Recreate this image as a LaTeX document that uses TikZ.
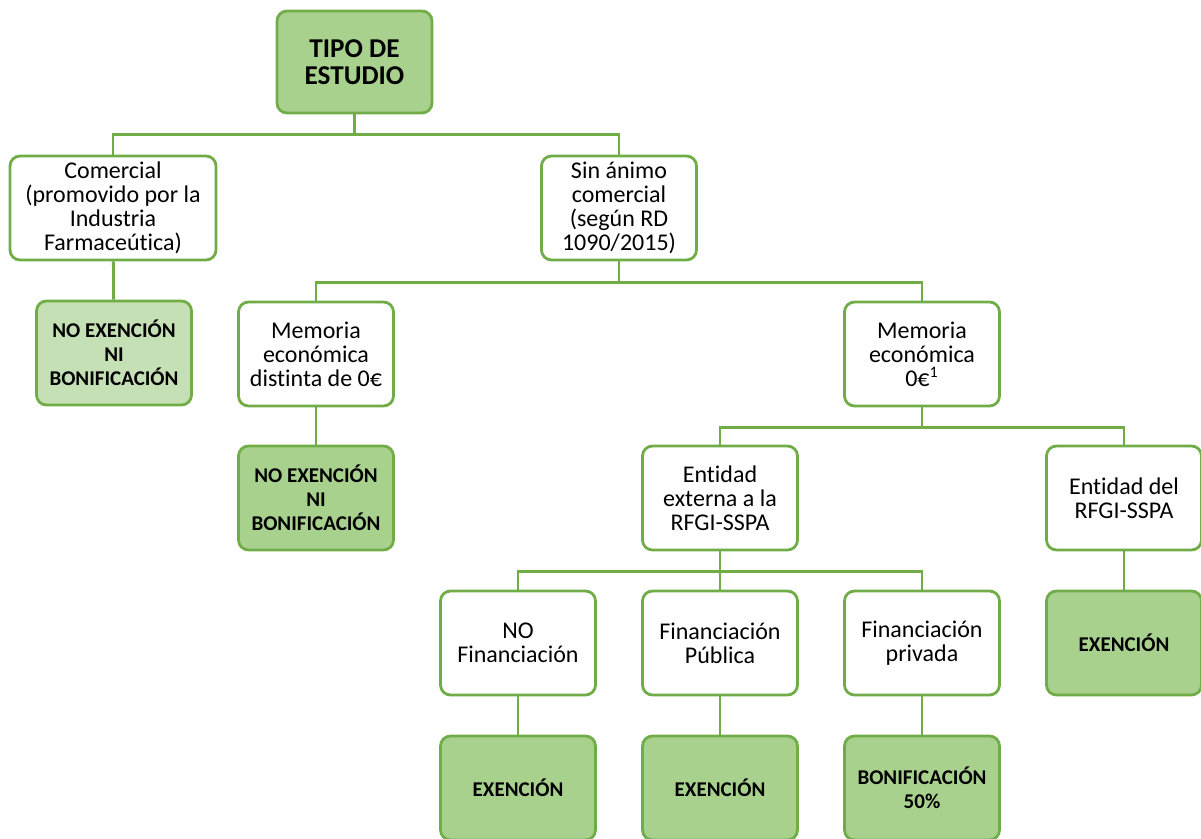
\documentclass[tikz,border=0pt]{standalone}
\usepackage{fontspec}
\setmainfont{Carlito}[Ligatures=NoCommon]
\usetikzlibrary{arrows,shapes}

\definecolor{boxline}{HTML}{70AD47}
\definecolor{boxgreen}{HTML}{A9D18E}
\definecolor{boxpale}{HTML}{C5E0B4}

\begin{document}
\begin{tikzpicture}[
  x=0.5pt,y=-0.5pt,
  font=\fontsize{12}{12}\selectfont,
  choice/.style={draw=boxline,line width=1.4pt,rounded corners=5pt,fill=white,
    minimum width=77.5pt,minimum height=52pt,inner sep=2pt},
  result/.style={choice,fill=boxgreen,font=\fontsize{10.5}{12}\selectfont\bfseries},
  title/.style={result,minimum height=51pt,font=\fontsize{13.6}{13.5}\selectfont\bfseries},
  link/.style={draw=boxline,line width=1.4pt},
  every node/.style={align=center}]

  \useasboundingbox (0,0) rectangle (1201,839);

  % Place the boxes at their positions in the chart
  \node[title] (tipo) at (354.5,62) {TIPO DE\\ESTUDIO};
  \node[choice,minimum width=103pt] (com) at (113,208) {Comercial\\(promovido por la\\Industria\\Farmaceútica)};
  \node[result,fill=boxpale] (noex1) at (114,353) {NO EXENCIÓN\\NI\\BONIFICACIÓN};
  \node[choice] (sin) at (619,208) {Sin ánimo\\comercial\\(según RD\\1090/2015)};
  \node[choice] (memdist) at (316,354) {Memoria\\económica\\distinta de 0€};
  \node[result] (noex2) at (316,498) {NO EXENCIÓN\\NI\\BONIFICACIÓN};
  \node[choice] (memcero) at (922,354) {Memoria\\económica\\0€\textsuperscript{1}};
  \node[choice] (extern) at (720,498) {Entidad\\externa a la\\RFGI-SSPA};
  \node[choice] (intern) at (1124,498) {Entidad del\\RFGI-SSPA};
  \node[result] (exint) at (1124,643) {EXENCIÓN};
  \node[choice] (nofin) at (518,643) {NO\\Financiación};
  \node[choice] (pubfin) at (720,643) {Financiación\\Pública};
  \node[choice] (privfin) at (922,643) {Financiación\\privada};
  \node[result] (exnofin) at (518,788) {EXENCIÓN};
  \node[result] (expub) at (720,788) {EXENCIÓN};
  \node[result] (bonif) at (922,788) {BONIFICACIÓN\\50\%};

  % Draw the branches between the boxes
  \draw[link] (tipo.south) -- ++(0,20) -| (com.north);
  \draw[link] (tipo.south) -- ++(0,20) -| (sin.north);
  \draw[link] (com) -- (noex1);
  \draw[link] (sin.south) -- ++(0,21) -| (memdist.north);
  \draw[link] (sin.south) -- ++(0,21) -| (memcero.north);
  \draw[link] (memdist) -- (noex2);
  \draw[link] (memcero.south) -- ++(0,20) -| (extern.north);
  \draw[link] (memcero.south) -- ++(0,20) -| (intern.north);
  \draw[link] (intern) -- (exint);
  \draw[link] (extern.south) -- ++(0,20) -| (nofin.north);
  \draw[link] (extern) -- (pubfin);
  \draw[link] (extern.south) -- ++(0,20) -| (privfin.north);
  \draw[link] (nofin) -- (exnofin);
  \draw[link] (pubfin) -- (expub);
  \draw[link] (privfin) -- (bonif);

\end{tikzpicture}
\end{document}
